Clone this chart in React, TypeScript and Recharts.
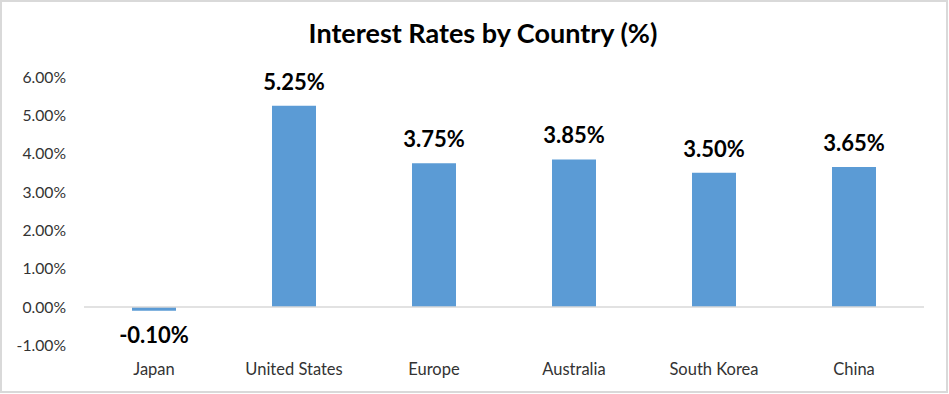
import React from 'react';
import { BarChart, Bar, XAxis, YAxis, ReferenceLine, LabelList } from 'recharts';

const countries = ['Japan', 'United States', 'Europe', 'Australia', 'South Korea', 'China'];
const rates = [-0.1, 5.25, 3.75, 3.85, 3.5, 3.65];
const yTicks = [-1, 0, 1, 2, 3, 4, 5, 6];

const data = countries.map((c, i) => ({ country: c, rate: rates[i] }));

const FONT = 'Lato, "Noto Sans", sans-serif';

const fmt = (v: number) => `${v.toFixed(2)}%`;

const renderLabel = (props: any) => {
  const { x, y, width, height, value } = props;
  const top = Math.min(y, y + height);
  const bottom = Math.max(y, y + height);
  const cx = x + width / 2;
  const ty = value >= 0 ? top - 16 : bottom + 32;
  return (
    <text x={cx} y={ty} textAnchor="middle" fill="#000" fontFamily={FONT} fontWeight={700} fontSize={22}>
      {fmt(value)}
    </text>
  );
};

export default function App() {
  return (
    <div style={{ position: 'absolute', left: 0, top: 0, width: 949, height: 394, background: '#fff' }}>
      <div style={{ position: 'absolute', left: 0, top: 0 }}>
        <BarChart
          width={949}
          height={394}
          data={data}
          margin={{ top: 77, right: 25, bottom: 18.7, left: 0 }}
        >
          <text x={483} y={43} textAnchor="middle" fontFamily={FONT} fontWeight={700} fontSize={27} fill="#000">
            Interest Rates by Country (%)
          </text>
          <XAxis
            dataKey="country"
            axisLine={false}
            tickLine={false}
            tickSize={0}
            tickMargin={18}
            height={30}
            interval={0}
            tick={{ fill: '#333', fontFamily: FONT, fontSize: 16.5 }}
          />
          <YAxis
            domain={[-1, 6]}
            ticks={yTicks}
            width={84}
            axisLine={false}
            tickLine={false}
            tickSize={0}
            tickMargin={18}
            interval={0}
            tickFormatter={(v: number) => fmt(v)}
            tick={{ fill: '#333', fontFamily: FONT, fontSize: 15.7 }}
          />
          <ReferenceLine y={0} stroke="#D9D9D9" strokeWidth={1.5} />
          <Bar dataKey="rate" fill="#5B9BD5" barSize={44} isAnimationActive={false}>
            <LabelList dataKey="rate" content={renderLabel} />
          </Bar>
        </BarChart>
      </div>
      <div
        style={{
          position: 'absolute',
          left: 0,
          top: 0,
          width: 948,
          height: 393,
          boxSizing: 'border-box',
          border: '2px solid #D9D9D9',
          pointerEvents: 'none',
        }}
      />
    </div>
  );
}
